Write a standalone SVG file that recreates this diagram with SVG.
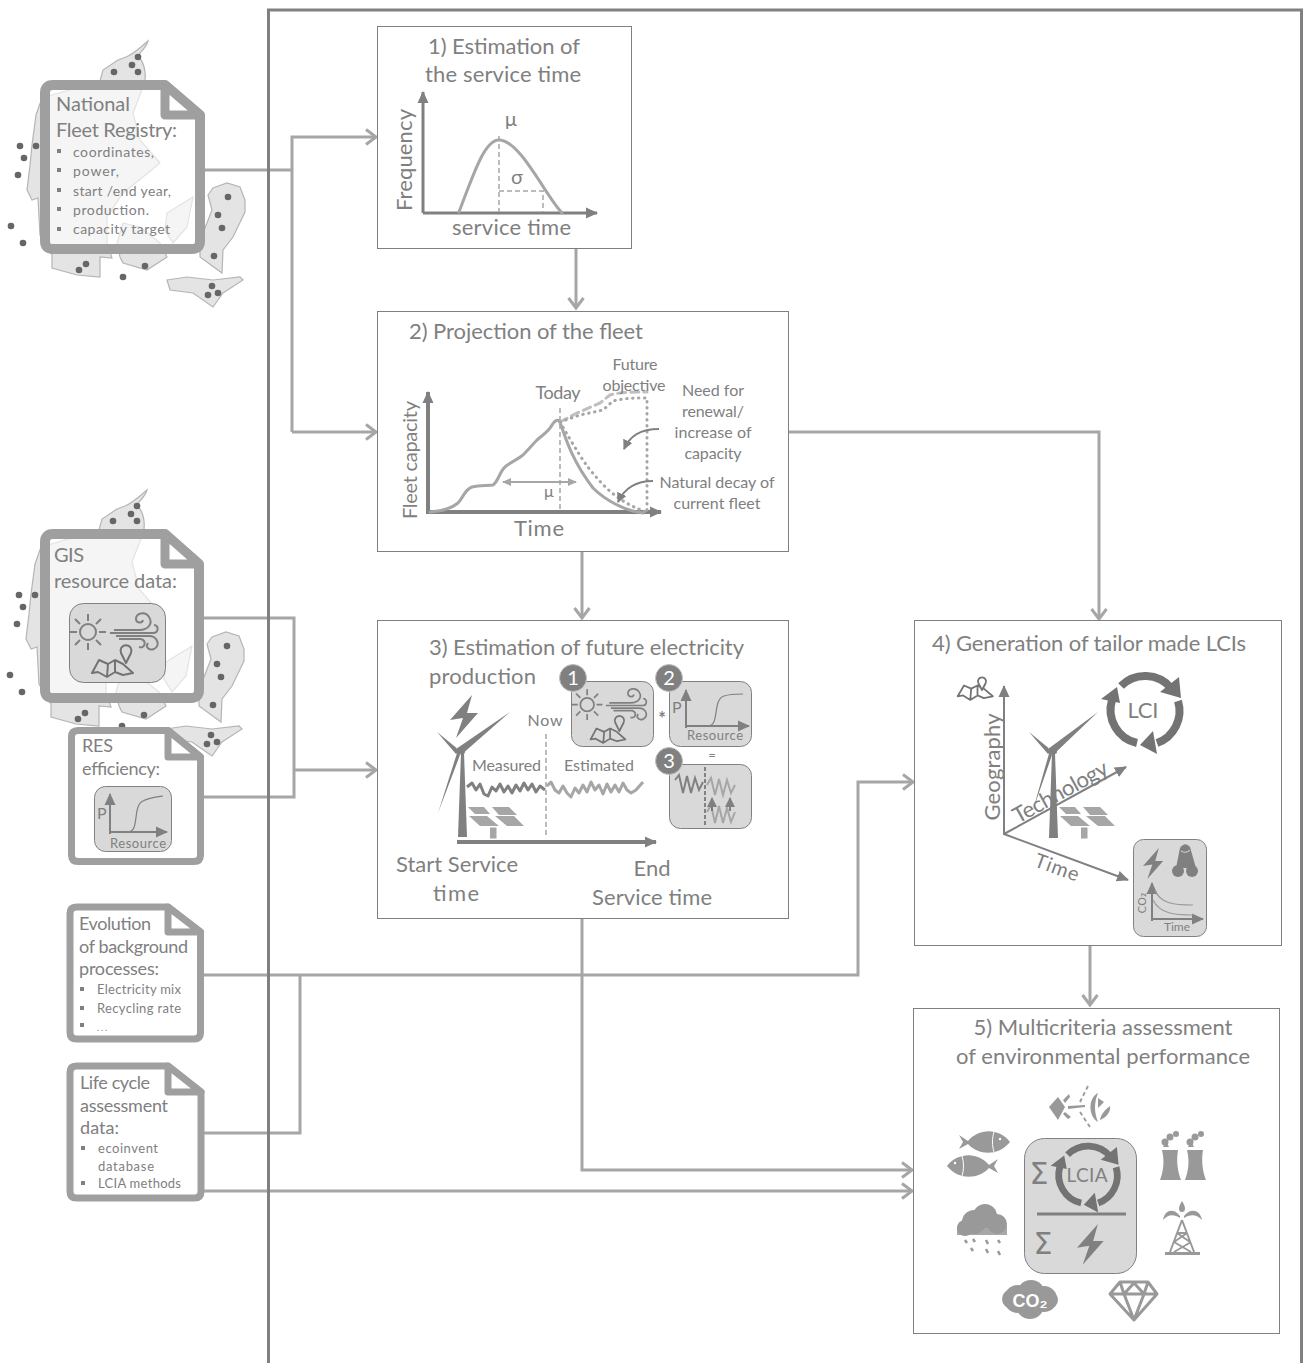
<svg xmlns="http://www.w3.org/2000/svg" xmlns:xlink="http://www.w3.org/1999/xlink" width="1303" height="1363" viewBox="0 0 1303 1363">
<style>
text{font-family:"Lato","Open Sans","Liberation Sans",sans-serif;fill:#808080}
.t22{font-size:22px}.t20{font-size:20px}.t18{font-size:18px}.t16{font-size:16px}.t14{font-size:14px}.t13{font-size:13px}
.m{text-anchor:middle}
.box{fill:#fff;stroke:#808080;stroke-width:1}
.doc{fill:#fff;fill-opacity:.62;stroke:#9f9f9f;stroke-linejoin:round}
.fold{fill:#fff;stroke:#9f9f9f;stroke-linejoin:round}
.tile{fill:#d9d9d9;stroke:#808080;stroke-width:1}
.conn{fill:none;stroke:#a6a6a6;stroke-width:3}
.ax{fill:none;stroke:#808080}
.cur{fill:none;stroke:#a6a6a6;stroke-width:3;stroke-linejoin:round;stroke-linecap:round}
.dash{fill:none;stroke:#a6a6a6;stroke-width:1.5;stroke-dasharray:5 3}
.ic{fill:#999}
.dk{fill:#808080}
.line{fill:none;stroke:#808080;stroke-width:1.6;stroke-linejoin:round}
.num{fill:#808080;stroke:#bfbfbf;stroke-width:1}
.numt{font-size:20px;fill:#fff;text-anchor:middle}
.blt{fill:#808080}
</style>
<defs>
<marker id="chev" markerUnits="userSpaceOnUse" markerWidth="16" markerHeight="18" refX="13" refY="9" orient="auto"><path d="M3,1.5 L13,9 L3,16.5" fill="none" stroke="#a6a6a6" stroke-width="3"/></marker>
<marker id="ah" markerUnits="userSpaceOnUse" markerWidth="14" markerHeight="14" refX="11" refY="7" orient="auto"><path d="M0,1.5 L12,7 L0,12.5 Z" fill="#808080"/></marker>
<marker id="ahs" markerUnits="userSpaceOnUse" markerWidth="10" markerHeight="10" refX="8" refY="5" orient="auto-start-reverse"><path d="M0,1 L9,5 L0,9 Z" fill="#a6a6a6"/></marker>
<marker id="ahc" markerUnits="userSpaceOnUse" markerWidth="12" markerHeight="12" refX="9" refY="6" orient="auto"><path d="M0,1 L10,6 L0,11 Z" fill="#808080"/></marker>
<g id="denmark">
<path fill="#e4e4e4" stroke="#b5b5b5" stroke-width="1.2" d="M148,41 C146,48 140,52 138,56 C144,62 146,72 145,80 L143,87 L133,113 L140,140 L160,163 L143,177 L123,193 L107,217 L107,243 L112,258 L100,257 L100,277 L77,275 L52,268 L52,255 L40,235 L38,198 L32,200 L27,190 L30,165 L32,145 L36,115 L42,98 L100,81 L103,70 L118,60 L126,57 C134,54 142,46 148,41 Z"/>
<path fill="#e4e4e4" stroke="#b5b5b5" stroke-width="1.2" d="M123,223 L140,227 L160,243 L167,257 L147,270 L123,263 L120,257 L117,243 Z"/>
<path fill="#e4e4e4" stroke="#b5b5b5" stroke-width="1.2" d="M167,213 L193,197 L187,227 L173,243 L165,230 Z"/>
<path fill="#e4e4e4" stroke="#b5b5b5" stroke-width="1.2" d="M208,195 L213,188 L227,183 L240,187 L245,200 L245,212 L233,237 L223,250 L222,273 L200,257 L200,240 L205,228 L212,210 Z"/>
<path fill="#e4e4e4" stroke="#b5b5b5" stroke-width="1.2" d="M167,280 L187,277 L213,280 L240,277 L243,280 L223,293 L213,307 L193,293 L170,290 Z"/>
<g fill="#666"><circle cx="138" cy="57" r="3.3"/><circle cx="132" cy="65" r="3.3"/><circle cx="114" cy="72" r="3.3"/><circle cx="138" cy="72" r="3.3"/><circle cx="20" cy="146" r="3.3"/><circle cx="36" cy="146" r="3.3"/><circle cx="24" cy="158" r="3.3"/><circle cx="18" cy="175" r="3.3"/><circle cx="11" cy="226" r="3.3"/><circle cx="23" cy="243" r="3.3"/><circle cx="228" cy="197" r="3.3"/><circle cx="218" cy="215" r="3.3"/><circle cx="222" cy="228" r="3.3"/><circle cx="214" cy="256" r="3.3"/><circle cx="86" cy="264" r="3.3"/><circle cx="79" cy="270" r="3.3"/><circle cx="145" cy="266" r="3.3"/><circle cx="123" cy="277" r="3.3"/><circle cx="212" cy="286" r="3.3"/><circle cx="218" cy="293" r="3.3"/><circle cx="208" cy="295" r="3.3"/></g>
</g>
<g id="solar" fill="#a6a6a6">
<path d="M1,0 H17 L23,7 H8 Z M25,0 H42 L50,8 H32 Z M2,9 H20 L32,19 H13 Z M28,9 H47 L57,19 H40 Z"/>
<rect x="23" y="20.500" width="6.500" height="11"/>
</g>
<g id="cycle">
<path d="M-24,-24 A34,34 0 0 1 26,-22 M33,-9 A34,34 0 0 1 12,33 M-8,33 A34,34 0 0 1 -33,-10" fill="none" stroke="#737373" stroke-width="8"/>
<path d="M36,-12 L34,-33 L15,-18 Z M-5,35 L8,21 L12,44 Z M-28,-23 L-44,-11 L-25,-7 Z" fill="#737373"/>
</g>
<g id="resico">
<circle cx="19" cy="29" r="8" fill="none" stroke="#808080" stroke-width="2"/>
<path d="M19,18 V11 M19,40 V47 M8,29 H1 M30,29 H37 M11,21 L6,16 M27,37 L32,42 M27,21 L32,16 M11,37 L6,42" stroke="#808080" stroke-width="2" fill="none"/>
<path d="M45,27 H70 C80,27 84,20 80,14 C76,8 67,10 67,16 C67,20 73,21 74,17 M41,30 H84 C90,30 90,22 85,22 M47,33 H80 C88,33 92,42 85,46 C80,48 76,44 79,40 M50,36 H72 C78,38 76,46 70,44" fill="none" stroke="#808080" stroke-width="2"/>
<path d="M23,70 L30,57 L39,61 L46,57 L54,61 L64,70 L54,72 L46,69 L38,74 L29,69 Z M39,61 L38,74 M46,57 L46,69" fill="none" stroke="#737373" stroke-width="2" stroke-linejoin="round"/>
<path d="M57,60 L52,50 A5.500,5.500 0 1 1 62,50 Z" fill="#d9d9d9" stroke="#737373" stroke-width="2" stroke-linejoin="round"/>
</g>
<path id="bolt" d="M22,0 L0,25 L13,23 L6,43 L28,18 L17,18 Z"/>
</defs>

<g id="maps">
<use href="#denmark"/>
<use href="#denmark" x="-1" y="449"/>
</g>

<g id="connectors">
<path class="conn" d="M204,170 H292 M292,432 V137 H376" marker-end="url(#chev)"/>
<path class="conn" d="M292,432 H376" marker-end="url(#chev)"/>
<path class="conn" d="M576,248 V308" marker-end="url(#chev)"/>
<path class="conn" d="M582,551 V618" marker-end="url(#chev)"/>
<path class="conn" d="M788,432 H1099 V619" marker-end="url(#chev)"/>
<path class="conn" d="M204,618 H294 V797 H204"/>
<path class="conn" d="M294,770 H376" marker-end="url(#chev)"/>
<path class="conn" d="M204,975 H858 V782 H913" marker-end="url(#chev)"/>
<path class="conn" d="M204,1133 H300 V975"/>
<path class="conn" d="M204,1191 H912" marker-end="url(#chev)"/>
<path class="conn" d="M582,919 V1170 H912" marker-end="url(#chev)"/>
<path class="conn" d="M1090,945 V1005" marker-end="url(#chev)"/>
</g>

<path id="frame" d="M268.500,1363 V10 H1301.500 V1363" fill="none" stroke="#808080" stroke-width="3"/>

<g id="doc-national">
<path class="doc" stroke-width="10" d="M53,85 H165 L200,115 V241 Q200,249 192,249 H53 Q45,249 45,241 V93 Q45,85 53,85 Z"/>
<path class="fold" stroke-width="9" d="M165,85 L200,115 H165 Z"/>
<text class="t20" x="56" y="111" textLength="74">National</text>
<text class="t20" x="56" y="137" textLength="121">Fleet Registry:</text>
<g class="blt"><rect x="57" y="149" width="4" height="4"/><rect x="57" y="168" width="4" height="4"/><rect x="57" y="188" width="4" height="4"/><rect x="57" y="207" width="4" height="4"/><rect x="57" y="227" width="4" height="4"/></g>
<text class="t14" x="73" y="157" textLength="81">coordinates,</text>
<text class="t14" x="73" y="176" textLength="46">power,</text>
<text class="t14" x="73" y="196" textLength="98">start /end year,</text>
<text class="t14" x="73" y="215" textLength="76">production.</text>
<text class="t14" x="73" y="234" textLength="97">capacity target</text>
</g>

<g id="doc-gis">
<path class="doc" stroke-width="10" d="M53,534 H165 L199,564 V690 Q199,698 191,698 H53 Q45,698 45,690 V542 Q45,534 53,534 Z"/>
<path class="fold" stroke-width="9" d="M165,534 L199,564 H165 Z"/>
<text class="t20" x="54" y="562" textLength="30">GIS</text>
<text class="t20" x="54" y="588" textLength="123">resource data:</text>
<rect class="tile" x="69.500" y="603.500" width="96" height="79" rx="14"/>
<use href="#resico" x="69" y="603"/>
</g>

<g id="doc-res">
<path class="doc" style="fill-opacity:1" stroke-width="7" d="M78,730.500 H168 L200.500,757 V855 Q200.500,861.500 194,861.500 H78 Q71.500,861.500 71.500,855 V737 Q71.500,730.500 78,730.500 Z"/>
<path class="fold" stroke-width="7" d="M168,730.500 L200.500,757 H168 Z"/>
<text class="t18" x="82" y="752" textLength="31">RES</text>
<text class="t18" x="82" y="775" textLength="78">efficiency:</text>
<rect class="tile" x="94.500" y="786.500" width="77" height="65" rx="11"/>
<path class="ax" stroke-width="2" d="M110,834 V794" marker-end="url(#ah)"/>
<path class="ax" stroke-width="2" d="M110,832 H167" marker-end="url(#ah)"/>
<path class="line" style="stroke-width:1.2" d="M128,832 C140,832 132,806 143,801 C148,798 156,797 163,796"/>
<text class="t16" x="97" y="819">P</text>
<text class="t13" x="110" y="848" textLength="56">Resource</text>
</g>

<g id="doc-evolution">
<path class="doc" style="fill-opacity:1" stroke-width="7" d="M76.500,907 H168 L200.500,932 V1032.500 Q200.500,1039 194,1039 H76.500 Q70,1039 70,1032.500 V913.500 Q70,907 76.500,907 Z"/>
<path class="fold" stroke-width="7" d="M168,907 L200.500,932 H168 Z"/>
<text class="t18" x="79" y="930" textLength="72">Evolution</text>
<text class="t18" x="79" y="953" textLength="109">of background</text>
<text class="t18" x="79" y="975" textLength="80">processes:</text>
<g class="blt"><rect x="80" y="987" width="4" height="4"/><rect x="80" y="1006" width="4" height="4"/><rect x="80" y="1023" width="4" height="4"/></g>
<text class="t13" x="97" y="994" textLength="84">Electricity mix</text>
<text class="t13" x="97" y="1013" textLength="84">Recycling rate</text>
<text class="t13" x="97" y="1031" textLength="10" style="font-size:9px">...</text>
</g>

<g id="doc-lca">
<path class="doc" style="fill-opacity:1" stroke-width="7" d="M76.500,1066 H168 L201,1092 V1191.500 Q201,1198 194.500,1198 H76.500 Q70,1198 70,1191.500 V1072.500 Q70,1066 76.500,1066 Z"/>
<path class="fold" stroke-width="7" d="M168,1066 L201,1092 H168 Z"/>
<text class="t18" x="80" y="1089" textLength="70">Life cycle</text>
<text class="t18" x="80" y="1112" textLength="88">assessment</text>
<text class="t18" x="80" y="1134" textLength="39">data:</text>
<g class="blt"><rect x="81" y="1146" width="4" height="4"/><rect x="81" y="1181" width="4" height="4"/></g>
<text class="t13" x="98" y="1153" textLength="60">ecoinvent</text>
<text class="t13" x="98" y="1171" textLength="56">database</text>
<text class="t13" x="98" y="1188" textLength="83">LCIA methods</text>
</g>

<g id="box1">
<rect class="box" x="377.500" y="26.500" width="254" height="222"/>
<text class="t22" x="428" y="54" textLength="152">1) Estimation of</text>
<text class="t22" x="425" y="82" textLength="156">the service time</text>
<path class="ax" stroke-width="3" d="M423,213 V92" marker-end="url(#ah)"/>
<path class="ax" stroke-width="3" d="M423,213 H597" marker-end="url(#ah)"/>
<path class="cur" d="M459,212 C475,170 485,140 499,140 C520,140 545,195 562,213"/>
<path class="dash" d="M499,136 V212 M499,191 H543 V212"/>
<text class="t20" x="511" y="126" text-anchor="middle">µ</text>
<text class="t20" x="517" y="184" text-anchor="middle">σ</text>
<text class="t22" transform="translate(412,160) rotate(-90)" text-anchor="middle" textLength="102">Frequency</text>
<text class="t22" x="452" y="235" textLength="119">service time</text>
</g>

<g id="box2">
<rect class="box" x="377.500" y="311.500" width="411" height="240"/>
<text class="t22" x="409" y="339" textLength="234">2) Projection of the fleet</text>
<path class="dash" d="M560,408 V510"/>
<path class="ax" stroke-width="4" d="M428,513 V392" marker-end="url(#ah)"/>
<path class="ax" stroke-width="4" d="M426,512 H661" marker-end="url(#ah)"/>
<path class="cur" d="M430,512 C445,511 453,507 458,503 C463,498 465,489 472,487 C480,485 488,486 493,485 C498,482 500,471 505,467 C512,461 517,460 523,455 C529,449 533,444 537,440 C544,434 549,431 552,425 C555,420 558,419 560,422 C566,440 573,462 593,488 C605,500 625,511 643,513"/>
<path class="cur" style="stroke-dasharray:.5 5.500" d="M560,422 C575,448 585,465 597,478 C610,493 625,505 647,512"/>
<path class="cur" style="stroke-dasharray:8 5;stroke:#bfbfbf" d="M560,422 L577,413 L600,403 L610,395 C620,392 635,392 647,392"/>
<path class="cur" style="stroke-dasharray:.5 5.500" d="M560,422 L580,415 L603,410 L613,401 C625,398 635,398 647,398 V512"/>
<path fill="none" stroke="#a6a6a6" stroke-width="2" d="M503,482 H576" marker-start="url(#ahs)" marker-end="url(#ahs)"/>
<path fill="none" stroke="#808080" stroke-width="1.8" d="M659,429 C640,429 630,436 624,449" marker-end="url(#ahc)"/>
<path fill="none" stroke="#808080" stroke-width="1.8" d="M653,481 C635,481 624,489 618,502" marker-end="url(#ahc)"/>
<text class="t16 m" x="549" y="497">µ</text>
<text class="t16 m" x="635" y="370" textLength="45">Future</text>
<text class="t16 m" x="634" y="391" textLength="63">objective</text>
<text class="t18 m" x="558" y="399" textLength="45">Today</text>
<text class="t16 m" x="713" y="396" textLength="62">Need for</text>
<text class="t16 m" x="713" y="417" textLength="62">renewal/</text>
<text class="t16 m" x="713" y="438" textLength="77">increase of</text>
<text class="t16 m" x="713" y="459" textLength="57">capacity</text>
<text class="t16 m" x="717" y="488" textLength="115">Natural decay of</text>
<text class="t16 m" x="717" y="509" textLength="87">current fleet</text>
<text class="t20" transform="translate(417,460) rotate(-90)" text-anchor="middle" textLength="118">Fleet capacity</text>
<text class="t22 m" x="539" y="536" textLength="50">Time</text>
</g>

<g id="box3">
<rect class="box" x="377.500" y="620.500" width="411" height="298"/>
<text class="t22" x="429" y="655" textLength="315">3) Estimation of future electricity</text>
<text class="t22" x="429" y="684" textLength="107">production</text>
<use href="#bolt" x="450" y="695" fill="#808080"/>
<path class="dk" d="M458,837 L461,753 H464 L467,837 Z"/>
<path class="dk" d="M456,749 L510,712 L461,755 Z M459,750 L437,732 L456,754 Z M458,750 L438,813 L460,755 Z"/>
<rect class="dk" x="456" y="748" width="9" height="6" rx="2"/>
<use href="#solar" x="467" y="807"/>
<path class="dash" d="M546,734 V837"/>
<polyline fill="none" stroke="#808080" stroke-width="3" stroke-linejoin="round" points="467,787 472,783 476,790 480,784 484,794 488,796 492,787 496,791 500,784 504,792 508,786 512,793 516,785 520,791 524,783 528,790 532,784 536,792 540,786 545,790"/>
<polyline fill="none" stroke="#a6a6a6" stroke-width="3" stroke-linejoin="round" points="547,786 551,782 555,790 559,793 563,786 567,793 571,797 575,788 579,793 583,785 587,792 591,782 595,790 599,785 603,794 607,784 611,792 615,785 619,792 623,783 627,790 631,793 636,790 643,782"/>
<path class="ax" stroke-width="4" d="M457,842 H656" marker-end="url(#ah)"/>
<text class="t16 m" x="545" y="726" textLength="35">Now</text>
<text class="t16" x="472" y="771" textLength="69">Measured</text>
<text class="t16" x="564" y="771" textLength="70">Estimated</text>
<text class="t22 m" x="457" y="872" textLength="122">Start Service</text>
<text class="t22 m" x="456" y="901" textLength="46">time</text>
<text class="t22 m" x="652" y="876" textLength="37">End</text>
<text class="t22 m" x="652" y="905" textLength="120">Service time</text>
<rect class="tile" x="571.500" y="681.500" width="82" height="65" rx="11"/>
<use href="#resico" transform="translate(571,680) scale(.85)"/>
<rect class="tile" x="669.500" y="681.500" width="82" height="65" rx="11"/>
<path class="ax" stroke-width="2" d="M686,728 V690" marker-end="url(#ah)"/>
<path class="ax" stroke-width="2" d="M686,726 H749" marker-end="url(#ah)"/>
<path class="line" style="stroke-width:1.2" d="M708,726 C720,726 712,700 724,696 C730,694 736,694 743,694"/>
<text class="t16" x="672" y="713">P</text>
<text class="t13" x="687" y="740" textLength="56">Resource</text>
<rect class="tile" x="669.500" y="764.500" width="82" height="64" rx="11"/>
<polyline fill="none" stroke="#808080" stroke-width="2" points="675,780 679,775 683,793 687,776 691,793 695,778 699,790 703,782"/>
<polyline fill="none" stroke="#a6a6a6" stroke-width="2" points="707,785 711,778 715,795 719,779 723,795 727,780 731,793 735,785"/>
<polyline fill="none" stroke="#a6a6a6" stroke-width="2" points="707,812 711,805 715,823 719,806 723,823 727,808 731,822 735,812"/>
<path fill="none" stroke="#666" stroke-width="1.5" stroke-dasharray="4 2" d="M705,767 V825"/>
<path fill="none" stroke="#666" stroke-width="1.5" d="M712,811 V798" marker-end="url(#ahc)"/>
<path fill="none" stroke="#666" stroke-width="1.5" d="M730,811 V798" marker-end="url(#ahc)"/>
<circle class="num" cx="573" cy="678" r="13.500"/><text class="numt" x="573" y="685">1</text>
<circle class="num" cx="669" cy="678" r="13.500"/><text class="numt" x="669" y="685">2</text>
<circle class="num" cx="669" cy="761" r="13.500"/><text class="numt" x="669" y="768">3</text>
<text class="t18 m" x="662" y="725" style="font-weight:bold">*</text>
<text class="t13 m" x="712" y="760">=</text>
</g>

<g id="box4">
<rect class="box" x="914.500" y="620.500" width="367" height="325"/>
<text class="t22" x="932" y="651" textLength="314">4) Generation of tailor made LCIs</text>
<path class="ax" stroke-width="2" d="M1004,835 V686" marker-end="url(#ah)"/>
<path class="ax" stroke-width="2" d="M1004,834 L1126,767" marker-end="url(#ah)"/>
<path class="ax" stroke-width="2" d="M1004,834 L1128,880" marker-end="url(#ah)"/>
<path class="dk" d="M1049,838 L1052,753 H1055 L1058,838 Z"/>
<path class="dk" d="M1048,749 L1098,712 L1053,755 Z M1051,750 L1029,732 L1048,754 Z M1050,750 L1033,810 L1052,755 Z"/>
<rect class="dk" x="1048" y="748" width="9" height="6" rx="2"/>
<use href="#solar" x="1058" y="807"/>
<text class="t22" transform="translate(1000,767) rotate(-90)" text-anchor="middle" textLength="107">Geography</text>
<text class="t22" transform="translate(1018,824) rotate(-29)" textLength="105">Technology</text>
<text class="t20" transform="translate(1033,866) rotate(20)" textLength="46">Time</text>
<g transform="translate(937,663) scale(.45)"><path d="M46,74 L60,50 L76,57 L90,50 L104,57 L124,74 L104,78 L90,72 L74,82 L58,72 Z M76,57 L74,82 M90,50 L90,72" fill="none" stroke="#737373" stroke-width="4" stroke-linejoin="round"/><path d="M100,60 L92,45 A9,9 0 1 1 108,45 Z" fill="#fff" stroke="#737373" stroke-width="4" stroke-linejoin="round"/></g>
<use href="#cycle" x="1145" y="710"/>
<text class="t22 m" x="1143" y="718" textLength="31">LCI</text>
<rect class="tile" x="1133.500" y="839.500" width="73" height="97" rx="10"/>
<use href="#bolt" fill="#808080" transform="translate(1143,848) scale(.72)"/>
<path d="M1176,868 L1180,848 Q1185,841 1190,847 L1196,868 Z" fill="#808080"/>
<path d="M1181,851 Q1186,854 1190,850" fill="none" stroke="#d9d9d9" stroke-width="1"/>
<circle cx="1178" cy="871" r="6" fill="#808080"/><circle cx="1192" cy="871" r="6" fill="#808080"/>
<path class="ax" stroke-width="2" d="M1152,921 V883" marker-end="url(#ah)"/>
<path class="ax" stroke-width="2" d="M1151,919 H1203" marker-end="url(#ah)"/>
<path class="line" style="stroke-width:1.2;stroke:#999" d="M1155,890 C1160,904 1175,905 1193,905 M1153,900 C1160,914 1175,915 1193,915"/>
<text transform="translate(1146,903) rotate(-90)" text-anchor="middle" style="font-size:11px;font-family:'DejaVu Sans',sans-serif">CO₂</text>
<text class="m" x="1177" y="931" style="font-size:12px" textLength="26">Time</text>
</g>

<g id="box5">
<rect class="box" x="913.500" y="1008.500" width="366" height="325"/>
<text class="t22 m" x="1103" y="1035" textLength="259">5) Multicriteria assessment</text>
<text class="t22 m" x="1103" y="1064" textLength="294">of environmental performance</text>
<rect class="tile" x="1024.500" y="1138.500" width="112" height="135" rx="20"/>
<use href="#cycle" transform="translate(1088,1175) scale(.85)"/>
<text class="m" x="1087" y="1182" style="font-size:19px" textLength="41">LCIA</text>
<text class="m" x="1039" y="1184" style="font-size:30px;fill:#808080;font-family:'DejaVu Sans',sans-serif">Σ</text>
<text class="m" x="1043" y="1254" style="font-size:30px;fill:#808080;font-family:'DejaVu Sans',sans-serif">Σ</text>
<path d="M1037,1214 H1126" stroke="#808080" stroke-width="3"/>
<use href="#bolt" fill="#808080" transform="translate(1077,1224) scale(.95)"/>
<g id="icon-fish" class="ic">
<path d="M959,1135 L968,1141 C978,1129 998,1127 1010,1142 C998,1157 978,1155 968,1144 L959,1149 L963,1142 Z"/>
<path d="M998,1159 L989,1165 C979,1153 959,1151 947,1166 C959,1181 979,1179 989,1168 L998,1173 L994,1166 Z"/>
<path d="M994,1132 C992,1138 992,1146 994,1152 M962,1156 C964,1162 964,1170 962,1176" fill="none" stroke="#fff" stroke-width="1"/>
<circle cx="1000" cy="1139" r="1.200" fill="#fff"/><circle cx="955" cy="1163" r="1.200" fill="#fff"/>
</g>
<g id="icon-ozone" class="ic">
<path d="M1049,1107 L1058,1097 L1065,1107 L1058,1120 Z"/>
<path d="M1068,1106 L1085,1105 L1085,1107 L1068,1109 Z M1063,1100 L1069,1094 L1070,1097 L1065,1103 Z M1065,1112 L1071,1117 L1068,1119 L1063,1114 Z"/>
<path d="M1088,1086 L1080,1102 M1080,1112 L1090,1127" fill="none" stroke="#999" stroke-width="1.800" stroke-dasharray="4 3"/>
<path d="M1098,1093 C1088,1098 1088,1116 1098,1122 C1094,1112 1094,1103 1098,1093 Z M1098,1098 L1104,1102 L1098,1108 Z M1110,1106 C1111,1112 1106,1118 1100,1120 C1101,1114 1105,1110 1110,1106 Z"/>
</g>
<g id="icon-plant" class="ic">
<path d="M1162,1150 H1178 C1176,1162 1178,1172 1181,1180 H1160 C1163,1172 1165,1162 1162,1150 Z"/>
<path d="M1187,1150 H1203 C1201,1162 1203,1172 1206,1180 H1185 C1188,1172 1190,1162 1187,1150 Z"/>
<circle cx="1165" cy="1142" r="3.500"/><circle cx="1170" cy="1137" r="3.500"/><circle cx="1176" cy="1134" r="3"/><path d="M1163,1147 L1166,1141 L1169,1147 Z"/>
<circle cx="1190" cy="1142" r="3.500"/><circle cx="1195" cy="1137" r="3.500"/><circle cx="1201" cy="1134" r="3"/><path d="M1188,1147 L1191,1141 L1194,1147 Z"/>
</g>
<g id="icon-oil" class="ic">
<path d="M1182,1201 C1186,1207 1186,1212 1182,1212 C1178,1212 1178,1207 1182,1201 Z"/>
<path d="M1180,1216 C1174,1208 1165,1209 1163,1220 C1168,1214 1174,1214 1180,1218 Z M1184,1216 C1190,1208 1200,1209 1202,1220 C1197,1214 1190,1214 1184,1218 Z"/>
<path d="M1182,1220 L1170,1252 M1182,1220 L1194,1252 M1177,1233 H1187 M1174,1242 L1191,1252 M1191,1242 L1174,1252 M1177,1233 L1190,1242 M1187,1233 L1174,1242" fill="none" stroke="#999" stroke-width="2"/>
<rect x="1165" y="1252" width="35" height="3"/>
</g>
<g id="icon-rain" class="ic">
<circle cx="974" cy="1222" r="12"/><circle cx="985" cy="1216" r="12"/><circle cx="997" cy="1224" r="10"/><circle cx="965" cy="1228" r="8"/>
<rect x="957" y="1226" width="50" height="9" fill-opacity=".85"/>
<path d="M965,1240 l2,3 M973,1239 l2,3 M986,1240 l2,4 M998,1240 l2,3 M971,1248 l2,3 M986,1249 l2,4 M998,1251 l2,4" stroke="#999" stroke-width="2.500" fill="none"/>
</g>
<g id="icon-co2" class="ic">
<circle cx="1018" cy="1299" r="14"/><circle cx="1031" cy="1294" r="14"/><circle cx="1044" cy="1299" r="13"/><circle cx="1030" cy="1305" r="14"/><circle cx="1012" cy="1299" r="10"/><circle cx="1049" cy="1300" r="9"/>
<text x="1030" y="1307" text-anchor="middle" style="font-size:18px;font-weight:bold;fill:#fff;font-family:'Liberation Sans',sans-serif">CO₂</text>
</g>
<g id="icon-diamond">
<path d="M1120,1282 H1148 L1157,1294 L1134,1320 L1110,1294 Z M1110,1294 H1157 M1120,1282 L1124,1294 L1134,1320 L1144,1294 L1148,1282 M1124,1294 L1134,1283 L1144,1294" fill="none" stroke="#999" stroke-width="3" stroke-linejoin="round"/>
</g>
</g>
</svg>
